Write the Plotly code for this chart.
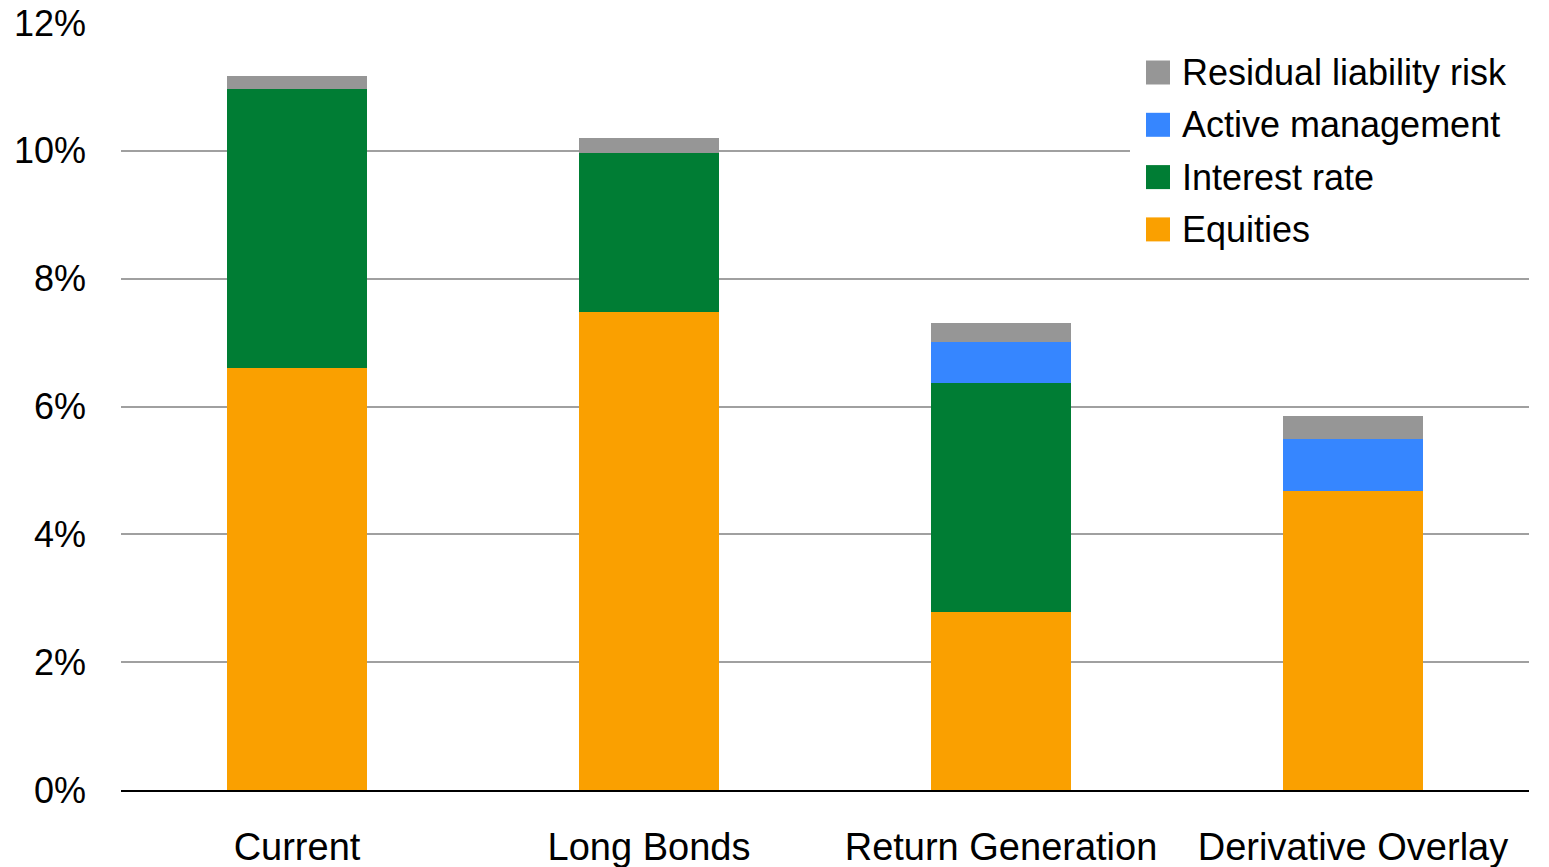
import plotly.graph_objects as go

# Portfolio strategies and the risk contribution of each source (% of liabilities)
categories = ["Current", "Long Bonds", "Return Generation", "Derivative Overlay"]
equities = [6.60, 7.48, 2.78, 4.68]
interest_rate = [4.37, 2.49, 3.59, 0.0]
active_management = [0.0, 0.0, 0.64, 0.81]
residual_liability = [0.20, 0.23, 0.30, 0.36]

series = [
    ("Equities", equities, "#FAA000"),
    ("Interest rate", interest_rate, "#007D34"),
    ("Active management", active_management, "#3686FF"),
    ("Residual liability risk", residual_liability, "#969696"),
]

y_ticks = [0, 2, 4, 6, 8, 10, 12]
y_tick_labels = ["0%", "2%", "4%", "6%", "8%", "10%", "12%"]

W, H = 1549, 867
M_L, M_R, M_T, M_B = 121, 20, 23, 77
PLOT_W = W - M_L - M_R
PLOT_H = H - M_T - M_B


def px_x(x):
    return (x - M_L) / PLOT_W


def px_y(y):
    return (H - M_B - y) / PLOT_H


FONT = "Liberation Sans, Arial, sans-serif"

fig = go.Figure()
for name, values, color in series:
    fig.add_trace(go.Bar(
        x=categories,
        y=values,
        name=name,
        marker=dict(color=color, line=dict(width=0)),
        hoverinfo="skip",
        showlegend=False,
    ))

# Legend box with large square swatches, drawn over the gridlines
shapes = [dict(
    type="rect", xref="paper", yref="paper", layer="above",
    x0=px_x(1130), x1=px_x(1549), y0=px_y(258), y1=px_y(42),
    fillcolor="white", line=dict(width=0),
)]
annotations = []
row_top, row_step, sw = 72.5, 52.3, 24
for i, (name, _, color) in enumerate(reversed(series)):
    cy = row_top + i * row_step
    shapes.append(dict(
        type="rect", xref="paper", yref="paper", layer="above",
        x0=px_x(1146), x1=px_x(1146 + sw),
        y0=px_y(cy + sw / 2), y1=px_y(cy - sw / 2),
        fillcolor=color, line=dict(width=0),
    ))
    annotations.append(dict(
        text=name, xref="paper", yref="paper",
        x=px_x(1180), y=px_y(cy), xanchor="left", yanchor="middle",
        showarrow=False, font=dict(family=FONT, size=36, color="black"),
    ))

fig.update_layout(
    barmode="stack",
    bargap=0.6,
    width=W,
    height=H,
    margin=dict(l=M_L, r=M_R, t=M_T, b=M_B),
    paper_bgcolor="white",
    plot_bgcolor="white",
    font=dict(family=FONT, color="black", size=34),
    showlegend=False,
    shapes=shapes,
    annotations=annotations,
)

fig.update_yaxes(
    range=[0, 12],
    tickvals=y_ticks,
    ticktext=y_tick_labels,
    showgrid=True,
    gridcolor="#A0A0A0",
    gridwidth=2,
    zeroline=False,
    showline=False,
    ticks="",
    tickfont=dict(size=36),
    ticklabelstandoff=34,
    automargin=False,
)

fig.update_xaxes(
    showline=True,
    linecolor="black",
    linewidth=2,
    ticks="",
    tickfont=dict(size=38),
    ticklabelstandoff=22,
    automargin=False,
)

fig.write_html("out.html")
